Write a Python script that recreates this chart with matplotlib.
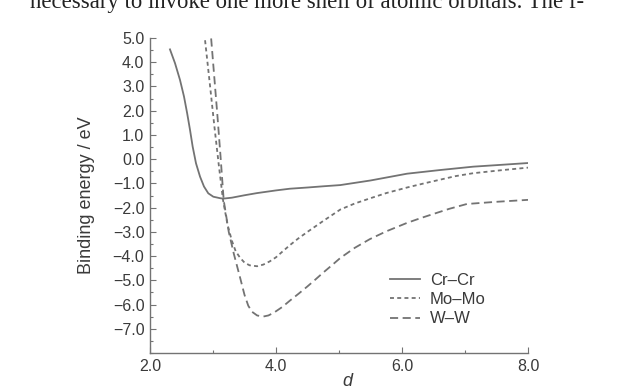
import matplotlib
matplotlib.use("Agg")
import matplotlib.pyplot as plt
from matplotlib.ticker import MultipleLocator, FixedLocator

plt.rcParams['font.family'] = ['Liberation Sans', 'DejaVu Sans']

# Cr–Cr (solid)
cr_x = [2.317, 2.397, 2.476, 2.54, 2.59, 2.635, 2.677, 2.73, 2.794, 2.857, 2.925, 3.005, 3.11,
        3.16, 3.30, 3.50, 3.70, 4.00, 4.22, 4.50, 4.75, 5.02, 5.50, 6.08, 6.60, 7.13, 7.60, 8.00]
cr_y = [4.53, 3.96, 3.27, 2.58, 1.89, 1.21, 0.52, -0.17, -0.72, -1.13, -1.41, -1.55, -1.61,
        -1.63, -1.59, -1.49, -1.40, -1.29, -1.22, -1.17, -1.12, -1.07, -0.88, -0.60, -0.45, -0.31, -0.23, -0.16]

# Mo–Mo (short dashes)
mo_x = [2.85, 2.87, 2.95, 3.02, 3.09, 3.16, 3.23, 3.30, 3.36, 3.43, 3.50, 3.58, 3.70, 3.80,
        3.90, 4.00, 4.10, 4.22, 4.35, 4.50, 4.75, 5.02, 5.25, 5.49, 5.75, 6.08, 6.35, 6.60,
        6.85, 7.13, 7.60, 8.00]
mo_y = [5.5, 5.0, 3.1, 1.4, -0.2, -1.7, -2.7, -3.37, -3.80, -4.07, -4.27, -4.38, -4.42, -4.35,
        -4.22, -4.05, -3.82, -3.55, -3.28, -3.00, -2.55, -2.08, -1.83, -1.62, -1.40, -1.17, -1.00, -0.85,
        -0.70, -0.58, -0.45, -0.35]

# W–W (long dashes)
w_x = [2.95, 2.97, 3.02, 3.07, 3.12, 3.17, 3.25, 3.33, 3.43, 3.50, 3.56, 3.62, 3.70, 3.79,
       3.88, 3.97, 4.10, 4.22, 4.36, 4.50, 4.62, 4.75, 4.90, 5.02, 5.25, 5.49, 5.75, 6.08,
       6.30, 6.50, 6.75, 7.03, 7.50, 8.00]
w_y = [5.5, 5.0, 3.4, 1.8, 0.1, -1.7, -3.0, -3.9, -4.89, -5.6, -6.05, -6.30, -6.45, -6.50,
       -6.45, -6.33, -6.10, -5.84, -5.55, -5.25, -4.98, -4.68, -4.35, -4.08, -3.66, -3.30, -2.98, -2.63,
       -2.43, -2.26, -2.05, -1.85, -1.76, -1.68]

x_ticks = [2.0, 4.0, 6.0, 8.0]
y_ticks = [5.0, 4.0, 3.0, 2.0, 1.0, 0.0, -1.0, -2.0, -3.0, -4.0, -5.0, -6.0, -7.0]

gray = '#737373'
txt = '#3a3a3a'
fig = plt.figure(figsize=(6.17, 3.92), dpi=100)
ax = fig.add_axes([150/617, 1-353/392, (528-150)/617, (353-38)/392])

ax.plot(cr_x, cr_y, color=gray, lw=1.3, ls='-', label='Cr–Cr')
ax.plot(mo_x, mo_y, color=gray, lw=1.3, ls=(0, (2.2, 1.8)), label='Mo–Mo')
ax.plot(w_x, w_y, color=gray, lw=1.3, ls=(0, (4.5, 2.5)), label='W–W')

ax.set_xlim(2.0, 8.0)
ax.set_ylim(-8.0, 5.0)
ax.xaxis.set_major_locator(FixedLocator(x_ticks))
ax.xaxis.set_minor_locator(MultipleLocator(1.0))
ax.yaxis.set_major_locator(FixedLocator(y_ticks))
ax.yaxis.set_minor_locator(MultipleLocator(0.5))
ax.set_xticklabels([f"{v:.1f}" for v in x_ticks])
ax.set_yticklabels([f"{v:.1f}".replace('-', '\u2212') for v in y_ticks])

for s in ['top', 'right']:
    ax.spines[s].set_visible(False)
for s in ['left', 'bottom']:
    ax.spines[s].set_color(gray)
    ax.spines[s].set_linewidth(1.0)

ax.tick_params(which='both', direction='in', color=gray, labelsize=11.5, labelcolor=txt)
ax.tick_params(which='major', length=4, width=0.8, pad=4)
ax.tick_params(which='minor', length=2.5, width=0.8)

ax.set_ylabel('Binding energy / eV', fontsize=13, color=txt)
ax.yaxis.set_label_coords((95-150)/378, 0.5)
ax.set_xlabel('d', fontsize=13, style='italic', color=txt)
ax.xaxis.set_label_coords((347-150)/378, -(373-353)/315)

leg = ax.legend(loc='upper left', bbox_to_anchor=((390-150)/378, (353-273)/315),
                frameon=False, fontsize=12, handlelength=1.8, handletextpad=0.6,
                labelspacing=0.25, borderpad=0, borderaxespad=0)
for t in leg.get_texts():
    t.set_color(txt)

fig.text(30/617, 1-8/392, 'necessary to invoke one more shell of atomic orbitals. The f-',
         family=['Liberation Serif', 'DejaVu Serif'], fontsize=16.4, va='baseline', ha='left',
         color='#222222')

fig.savefig('out.png', dpi=100)
